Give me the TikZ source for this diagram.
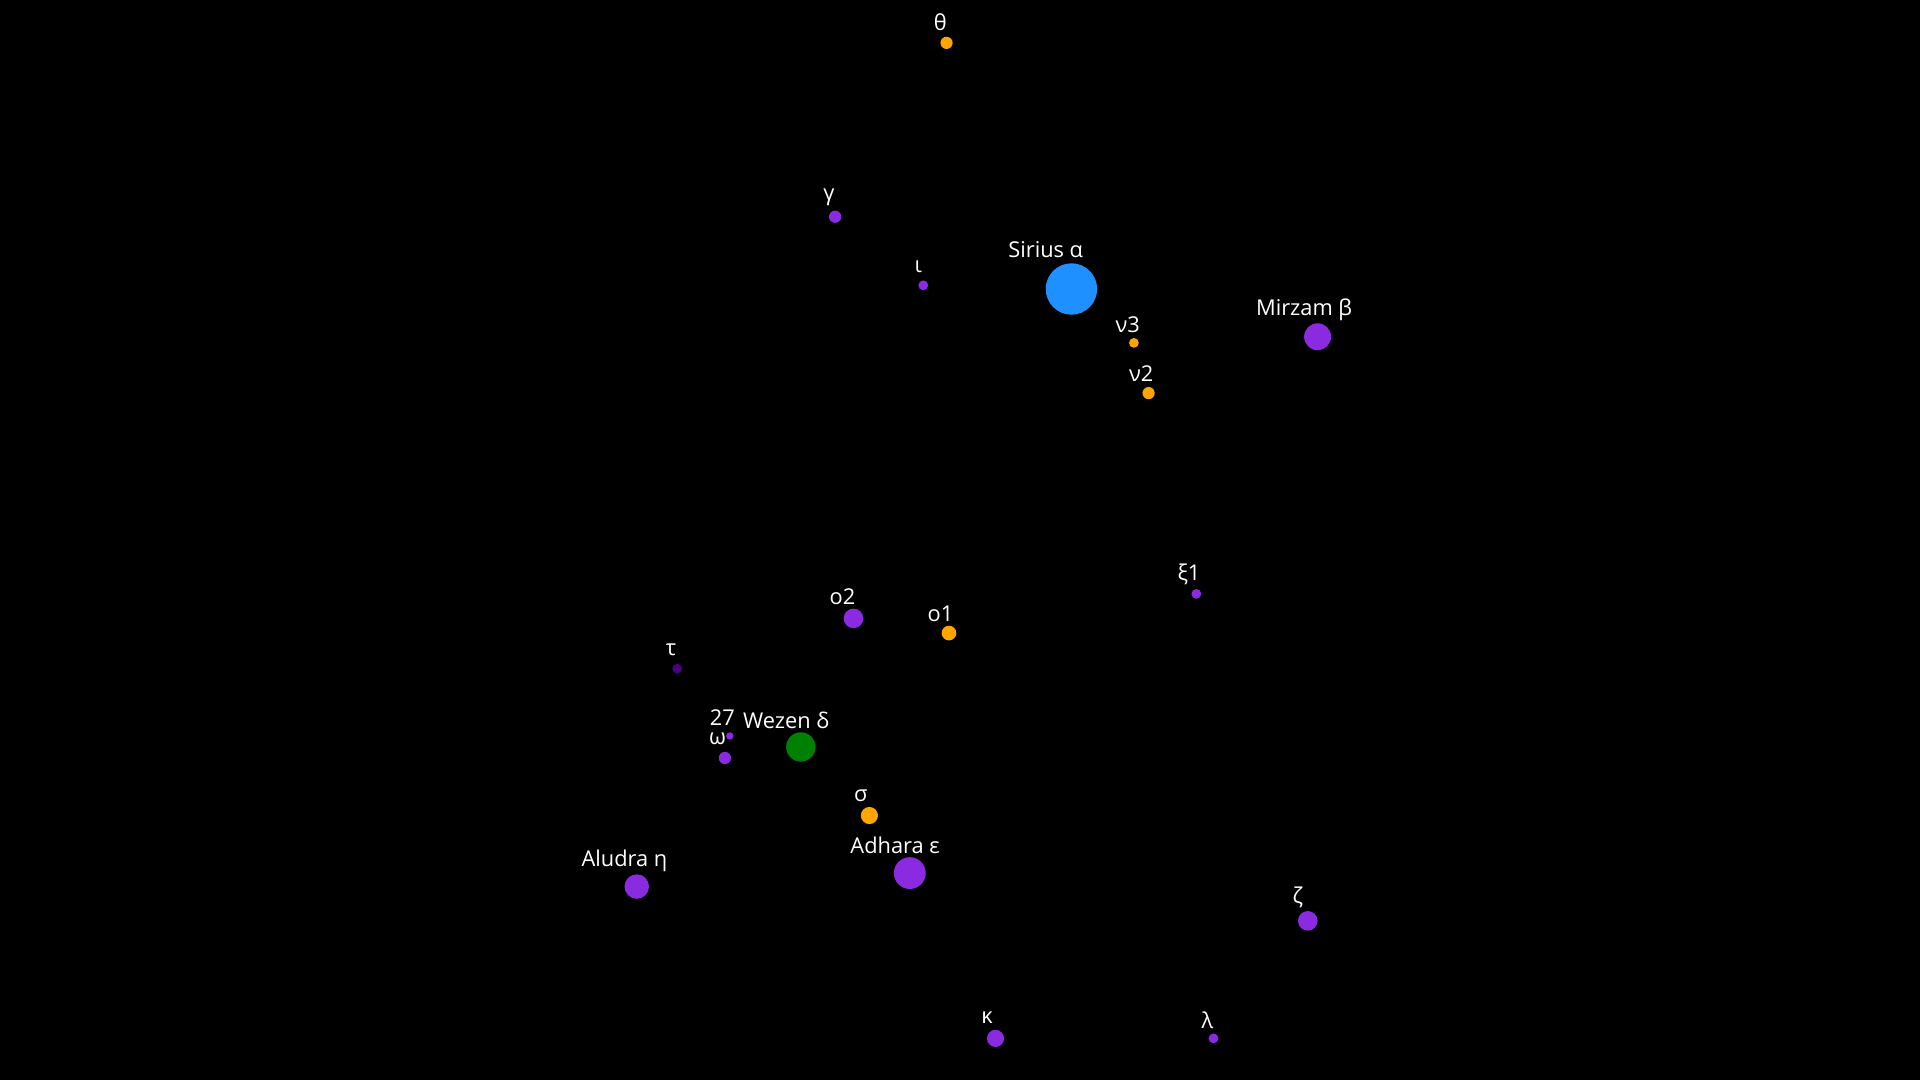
\documentclass[tikz,border=0pt]{standalone}
\usepackage{fontspec}
\setmainfont{Open Sans}
\usepackage{tikz}
\usetikzlibrary{positioning}
\definecolor{starviolet}{HTML}{8A2BE2}
\definecolor{starorange}{HTML}{FFA500}
\definecolor{starblue}{HTML}{1E90FF}
\definecolor{stargreen}{HTML}{008000}
\definecolor{starindigo}{HTML}{4B0082}

\begin{document}
\begin{tikzpicture}[x=0.012245cm, y=-0.012245cm]
    % Define styles
    \tikzstyle{dot} = [circle, inner sep=0pt, draw=none]
    \tikzstyle{tag} = [text=white, font=\fontsize{6.2}{7}\selectfont, inner sep=0pt]

    % Background
    \fill [black] (0,0) rectangle (1568,882);

    % Place stars: name/x/y/radius/colour/label x/label y/text
    \foreach \nm/\x/\y/\r/\col/\lx/\ly/\txt in {
        theta/773/35/5/starorange/768/18/θ,
        gamma/682/177/5/starviolet/677/161/γ,
        iota/754/233/4/starviolet/750/218/ι,
        sirius/875/236/21/starblue/854/204/Sirius α,
        nuthree/926/280/4/starorange/921/265/ν3,
        mirzam/1076/275/11/starviolet/1065/253/Mirzam β,
        nutwo/938/321/5/starorange/932/305/ν2,
        xione/977/485/4/starviolet/971/469/ξ1,
        otwo/697/505/8/starviolet/688/487/o2,
        oone/775/517/6/starorange/768/501/o1,
        tau/553/546/4/starindigo/548/531/τ,
        tw/596/601/3/starviolet/590/586/27,
        omega/592/619/5/starviolet/586/603/ω,
        wezen/654/610/12/stargreen/642/588/Wezen δ,
        sigma/710/666/7/starorange/703/650/σ,
        adhara/743/713/13/starviolet/731/690/Adhara ε,
        aludra/520/724/10/starviolet/510/703/Aludra η,
        zeta/1068/752/8/starviolet/1060/733/ζ,
        kappa/813/848/7/starviolet/806/831/κ,
        lambda/991/848/4/starviolet/986/833/λ}
    {
        \node [dot, fill=\col, minimum size=2*\r*0.012245cm] (\nm) at (\x,\y) {};
        \node [tag] (\nm-lbl) at (\lx,\ly) {\txt};
    }
\end{tikzpicture}
\end{document}
